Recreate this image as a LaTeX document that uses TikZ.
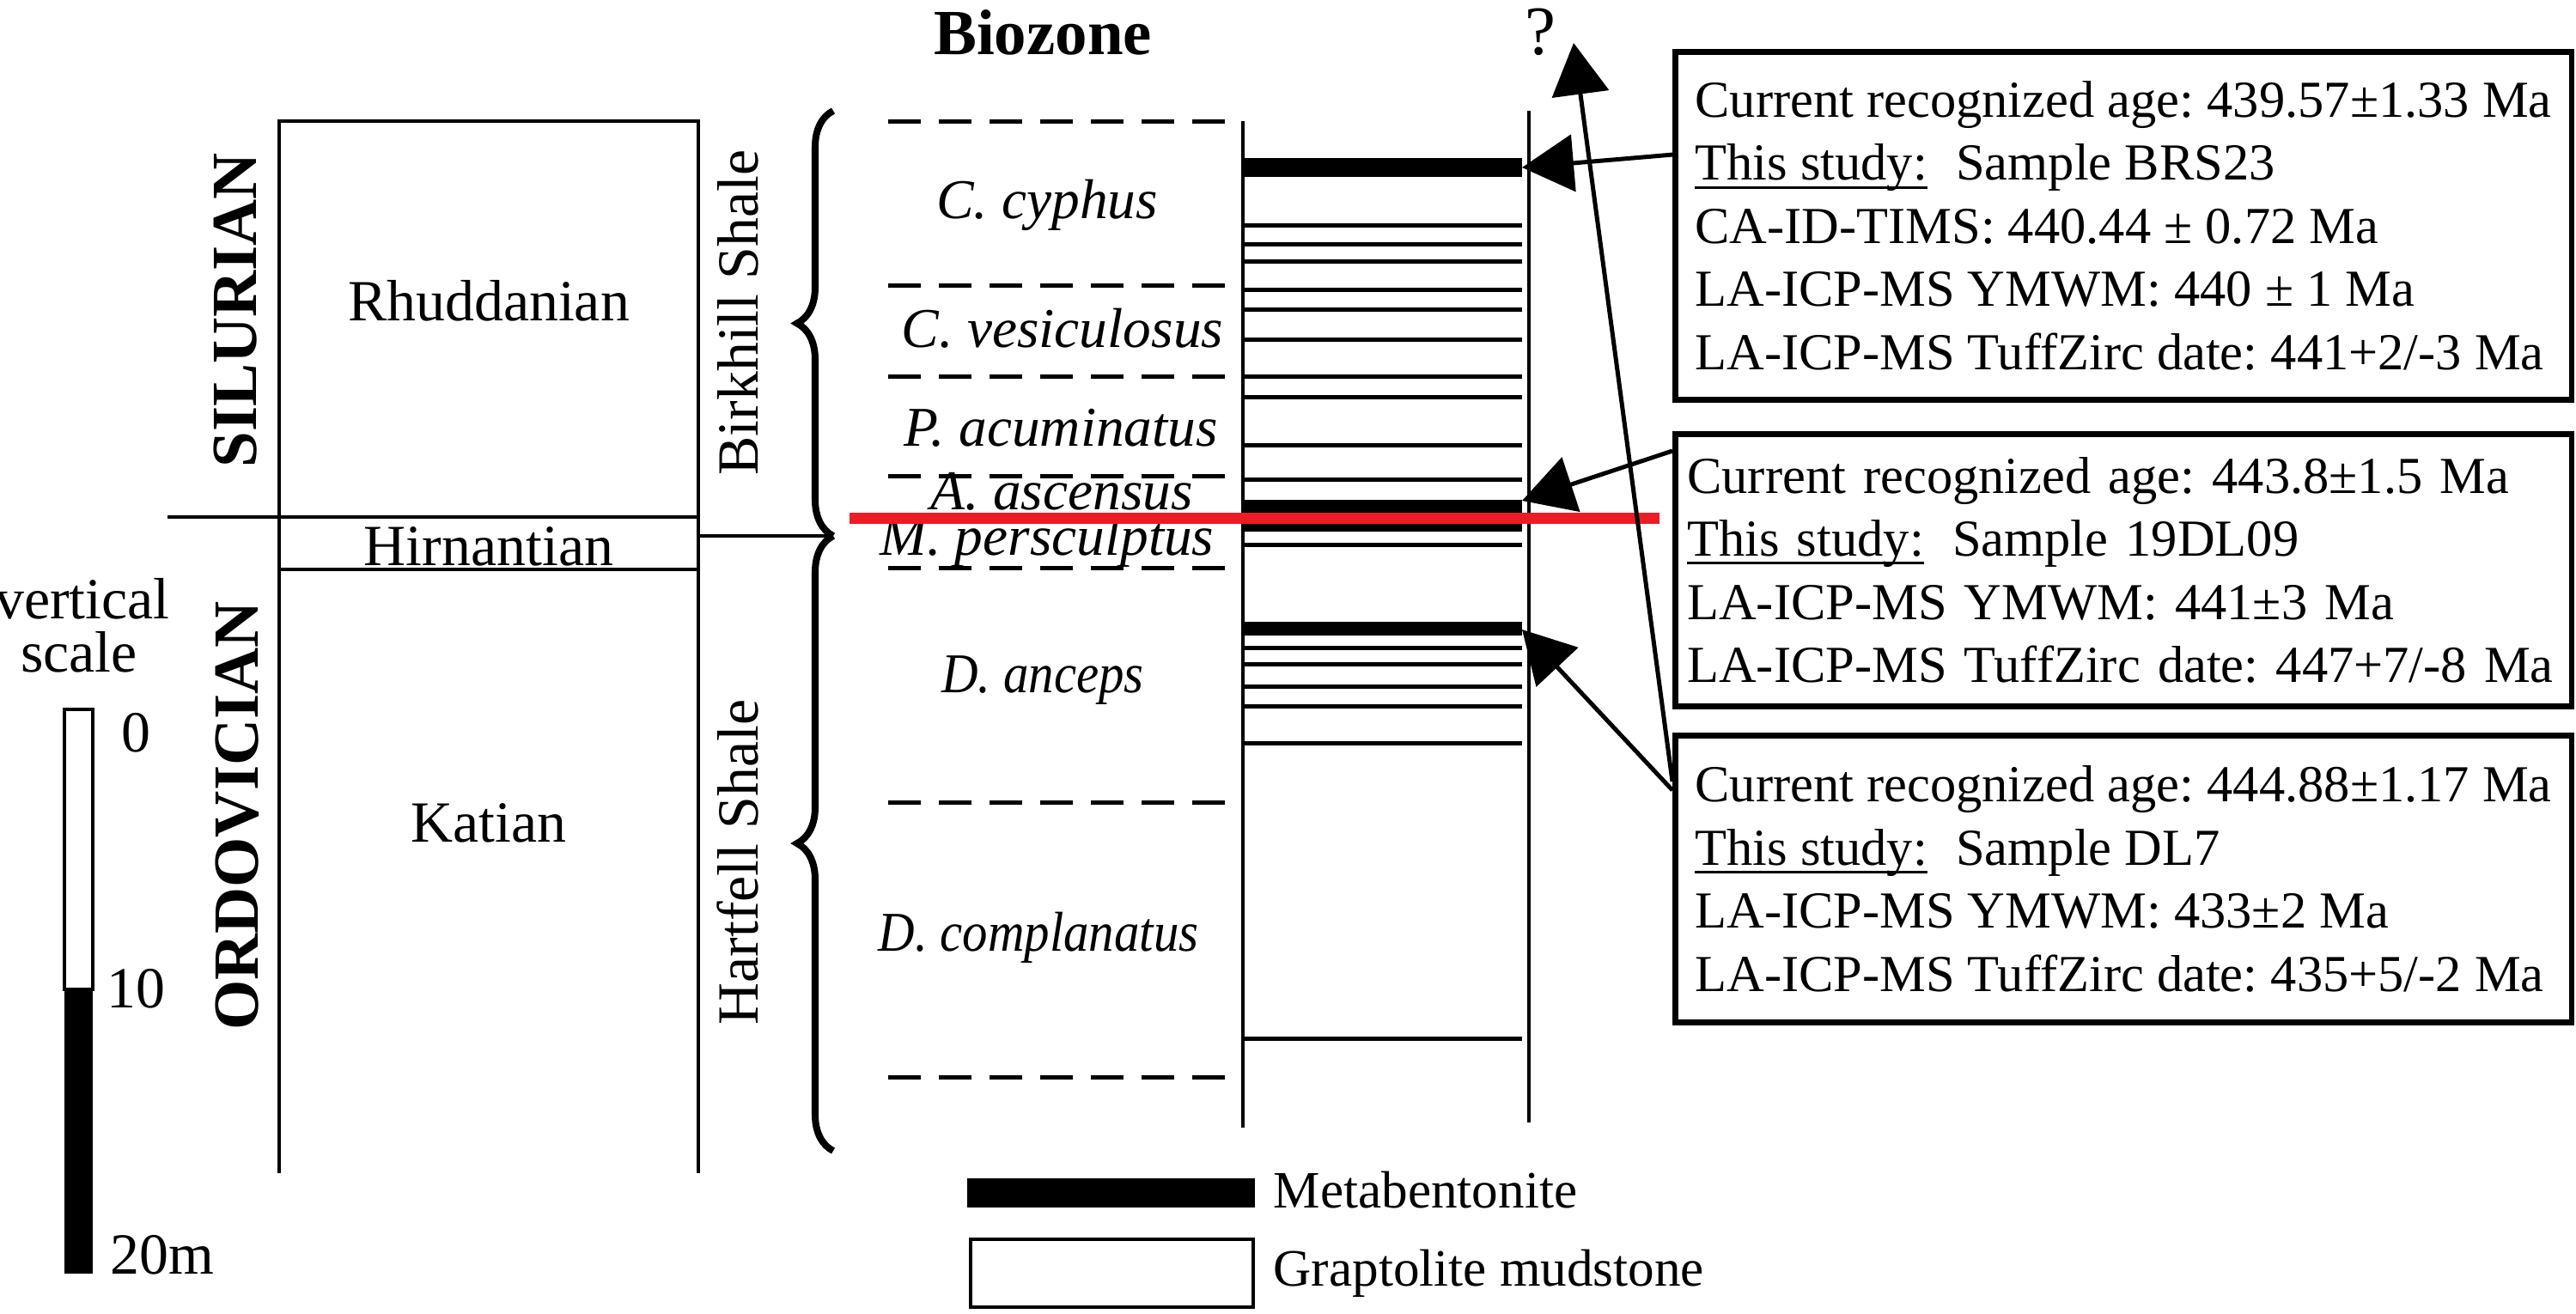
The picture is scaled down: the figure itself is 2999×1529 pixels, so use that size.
\documentclass[tikz,border=0pt]{standalone}
\usepackage{fontspec}
\setmainfont{Liberation Serif}
\usepackage{tikz}
\usetikzlibrary{arrows.meta}
\usetikzlibrary{decorations.pathreplacing}
\definecolor{bndred}{RGB}{237,28,36}
\frenchspacing
\newcommand{\studyul}[1]{\leavevmode\setbox0\hbox{#1}\rlap{\rule[-0.16em]{\wd0}{0.05em}}\box0}
\tikzset{
    colline/.style = {line width=0.04cm},
    bed/.style = {line width=0.05cm},
    zoneline/.style = {line width=0.05cm,dash pattern=on 0.38cm off 0.21cm},
    redline/.style = {line width=0.13cm,draw=bndred},
    datearrow/.style = {line width=0.05cm,-{Triangle[length=0.6cm,width=0.66cm]}},
    formbrace/.style = {line width=0.08cm,decorate,decoration={brace,amplitude=0.42cm}},
    infobox/.style = {draw,line width=0.065cm,anchor=north west,align=left,
        minimum width=10.43cm,inner xsep=0.14cm,inner ysep=0pt,
        font=\fontsize{17.2}{20.9}\selectfont},
    stagetxt/.style = {anchor=base,font=\fontsize{19.3}{22}\selectfont},
    zonetxt/.style = {anchor=base,font=\fontsize{18.6}{22}\selectfont\itshape},
    periodtxt/.style = {rotate=90,font=\fontsize{21.3}{24}\selectfont\bfseries},
    shaletxt/.style = {rotate=90,font=\fontsize{19.3}{22}\selectfont},
    legendtxt/.style = {anchor=base west,inner xsep=0pt,font=\fontsize{17.4}{20}\selectfont}
}
\begin{document}
\begin{tikzpicture}[x=0.01cm,y=-0.01cm]
    \useasboundingbox (0,0) rectangle (2999,1529);
    % Vertical scale
    \node[stagetxt] (vert) at (96,720) {vertical};
    \node[stagetxt] (scl) at (92,782) {scale};
    \draw[line width=0.04cm] (75,826) rectangle (108,1152);
    \fill (75,1152) rectangle (108,1483);
    \node[stagetxt] (s0) at (158,875) {0};
    \node[stagetxt] (s10) at (158,1173) {10};
    \node[stagetxt,anchor=base west,inner xsep=0pt] (s20) at (128,1483) {20m};
    % Periods and stages
    \node[periodtxt] (sil) at (274,361) {SILURIAN};
    \node[periodtxt] (ord) at (276,950) {ORDOVICIAN};
    \draw[colline] (325,1366) -- (325,141) -- (813,141) -- (813,1366);
    \draw[colline] (195,602) -- (813,602);
    \draw[colline] (325,663) -- (813,663);
    \node[stagetxt] (rhu) at (569,373) {Rhuddanian};
    \node[stagetxt] (hir) at (569,658) {Hirnantian};
    \node[stagetxt] (kat) at (569,980) {Katian};
    % Formations
    \node[shaletxt] (birk) at (859,364) {Birkhill Shale};
    \node[shaletxt] (hart) at (859,1004) {Hartfell Shale};
    \coordinate (fjoin) at (970,624);
    \draw[formbrace] (fjoin) -- (970,129);
    \draw[formbrace] (970,1340) -- (fjoin);
    \draw[colline] (813,624) -- (fjoin);
    % Biozones
    \node[anchor=base,font=\fontsize{21.3}{24}\selectfont\bfseries] (bio) at (1214,63) {Biozone};
    \foreach \y in {141,332,438,554,600,661,934,1254}
        \draw[zoneline] (1034,\y) -- (1430,\y);
    \node[zonetxt] (zcyp) at (1219,254) {C. cyphus};
    \node[zonetxt] (zves) at (1237,404) {C. vesiculosus};
    \node[zonetxt] (zacu) at (1235,519) {P. acuminatus};
    \node[zonetxt] (zasc) at (1236,593) {A. ascensus};
    \node[zonetxt] (zper) at (1219,646) {M. persculptus};
    \node[zonetxt,xscale=0.9] (zanc) at (1214,806) {D. anceps};
    \node[zonetxt,xscale=0.9] (zcom) at (1209,1107) {D. complanatus};
    % Section
    \draw[colline] (1447,141) -- (1447,1313);
    \draw[colline] (1780,129) -- (1780,1307);
    \foreach \y in {262,284,304,337,360,395,438,462,518,558,634,754,773,799,822,865,1209}
        \draw[bed] (1447,\y) -- (1772,\y);
    \fill (1447,184) rectangle (1772,206);
    \fill (1447,582) rectangle (1772,619);
    \fill (1447,724) rectangle (1772,740);
    \draw[redline] (989,603) -- (1932,603);
    \node[anchor=base,font=\fontsize{23}{26}\selectfont] (qm) at (1793,63) {?};
    % Ages
    \node[infobox,minimum height=4.05cm] (b1) at (1947,57) {
        Current recognized age: 439.57±1.33 Ma\\
        \studyul{This study:}\hspace{0.55em}Sample BRS23\\
        CA-ID-TIMS: 440.44 ± 0.72 Ma\\
        LA-ICP-MS YMWM: 440 ± 1 Ma\\
        LA-ICP-MS TuffZirc date: 441+2/-3 Ma};
    \node[infobox,minimum height=3.17cm,text width=10.15cm] (b2) at (1947,502) {
        Current recognized age: 443.8±1.5 Ma\\
        \studyul{This study:}\hspace{0.55em}Sample 19DL09\\
        LA-ICP-MS YMWM: 441±3 Ma\\
        LA-ICP-MS TuffZirc date: 447+7/-8 Ma};
    \node[infobox,minimum height=3.34cm] (b3) at (1947,853) {
        Current recognized age: 444.88±1.17 Ma\\
        \studyul{This study:}\hspace{0.55em}Sample DL7\\
        LA-ICP-MS YMWM: 433±2 Ma\\
        LA-ICP-MS TuffZirc date: 435+5/-2 Ma};
    \coordinate (s1) at ([yshift=-1.23cm]b1.north west);
    \coordinate (s2) at ([yshift=-0.23cm]b2.north west);
    \coordinate (s3) at ([yshift=-0.67cm]b3.north west);
    \coordinate (s4) at ([yshift=-0.57cm]b3.north west);
    \coordinate (bedA) at (1772,195);
    \coordinate (bedB) at (1772,583);
    \coordinate (bedC) at (1772,733);
    \coordinate (open) at (1832,50);
    \foreach \src/\dest in {s1/bedA,s2/bedB,s3/bedC,s4/open}
        \draw[datearrow] (\src) to (\dest);
    % Legend
    \fill (1126,1372) rectangle (1461,1406);
    \draw[line width=0.045cm] (1130,1443) rectangle (1459,1522);
    \node[legendtxt] (lmeta) at (1482,1406) {Metabentonite};
    \node[legendtxt] (lgrap) at (1482,1497) {Graptolite mudstone};
\end{tikzpicture}
\end{document}
